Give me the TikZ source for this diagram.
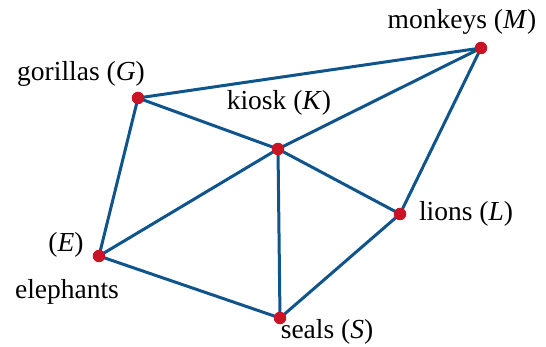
\documentclass[tikz,border=0pt]{standalone}
\usepackage{fontspec}
\setmainfont{Liberation Serif}
\definecolor{edgeblue}{RGB}{16,84,140}
\definecolor{dotred}{RGB}{200,20,36}
\tikzset{
  vtx/.style={circle,fill=dotred,inner sep=0pt,minimum size=12.5pt},
  edge/.style={draw=edgeblue,line width=3pt},
  lbl/.style={inner sep=0pt,font=\fontsize{27.5}{32}\selectfont}
}
\begin{document}
\begin{tikzpicture}[x=1pt,y=-1pt]
\useasboundingbox (0,0) rectangle (546,347);
\coordinate (pM) at (481,48);
\coordinate (pG) at (138,98);
\coordinate (pK) at (278,149);
\coordinate (pL) at (400,214);
\coordinate (pE) at (99,256);
\coordinate (pS) at (280,318);
\draw[edge] (pG) -- (pM);
\draw[edge] (pG) -- (pK);
\draw[edge] (pK) -- (pM);
\draw[edge] (pM) -- (pL);
\draw[edge] (pG) -- (pE);
\draw[edge] (pE) -- (pK);
\draw[edge] (pK) -- (pS);
\draw[edge] (pK) -- (pL);
\draw[edge] (pE) -- (pS);
\draw[edge] (pS) -- (pL);
\node[vtx] (M) at (pM) {};
\node[vtx] (G) at (pG) {};
\node[vtx] (K) at (pK) {};
\node[vtx] (L) at (pL) {};
\node[vtx] (E) at (pE) {};
\node[vtx] (S) at (pS) {};
\node[lbl] (tM) at (462,22) {monkeys (\textit{M})};
\node[lbl] (tG) at (81,74) {gorillas (\textit{G})};
\node[lbl] (tK) at (279,103) {kiosk (\textit{K})};
\node[lbl] (tL) at (466,214) {lions (\textit{L})};
\node[lbl] (tE) at (66,245) {(\textit{E})};
\node[lbl] (tE2) at (67,292) {elephants};
\node[lbl] (tS) at (327,332) {seals (\textit{S})};
\end{tikzpicture}
\end{document}
